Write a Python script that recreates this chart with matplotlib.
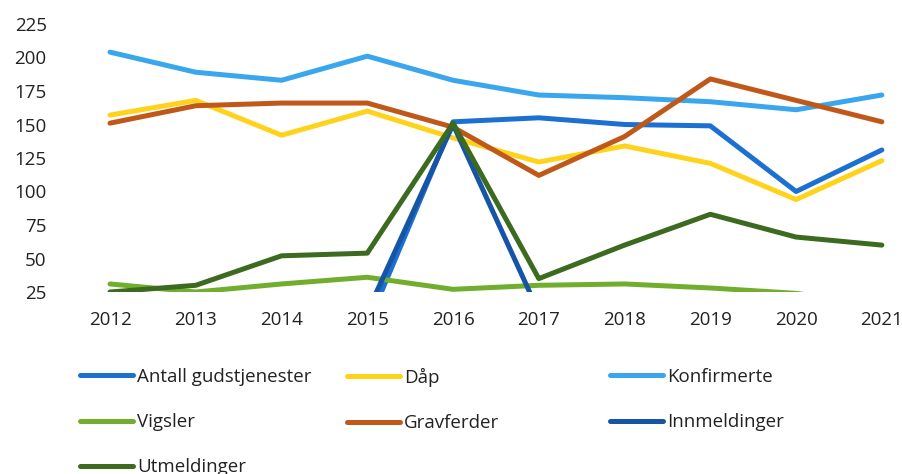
import numpy as np
import matplotlib.pyplot as plt

plt.rcParams['font.family'] = ['Open Sans', 'DejaVu Sans']

years = ['2012', '2013', '2014', '2015', '2016', '2017', '2018', '2019', '2020', '2021']

gudstjenester = [0, 0, 0, 0, 152, 155, 150, 149, 100, 131]
daap          = [157, 168, 142, 160, 140, 122, 134, 121, 94, 123]
konfirmerte   = [204, 189, 183, 201, 183, 172, 170, 167, 161, 172]
vigsler       = [31, 25, 31, 36, 27, 30, 31, 28, 24, 15]
gravferder    = [151, 164, 166, 166, 148, 112, 141, 184, 168, 152]
innmeldinger  = [8, 8, 8, 10, 150, 10, 10, 10, 10, 10]
utmeldinger   = [25, 30, 52, 54, 151, 35, 60, 83, 66, 60]

series = [
    ('Antall gudstjenester', gudstjenester, '#1c70d2'),
    ('Dåp', daap, '#ffd21c'),
    ('Konfirmerte', konfirmerte, '#3aa6ee'),
    ('Vigsler', vigsler, '#72ae2e'),
    ('Gravferder', gravferder, '#c0581a'),
    ('Innmeldinger', innmeldinger, '#1655a6'),
    ('Utmeldinger', utmeldinger, '#3c6a1e'),
]

fig = plt.figure(figsize=(9.02, 4.74), dpi=100)
ax = fig.add_axes([80/902, 1-292/474, 819/902, 268/474])

x = np.arange(len(years))
lines = []
for name, vals, col in series:
    ln, = ax.plot(x, vals, '-', color=col, lw=3.6, solid_capstyle='round', label=name)
    lines.append(ln)

ax.set_ylim(25, 225)
ax.set_xlim(-0.35, 9.2)
ax.set_yticks(np.arange(25, 226, 25))
ax.set_xticks(x)
ax.set_xticklabels(years)
for s in ax.spines.values():
    s.set_visible(False)
ax.tick_params(axis='both', length=0, labelsize=13.5, colors='#222222')
ax.tick_params(axis='y', pad=24)
ax.tick_params(axis='x', pad=14)

# legend in three columns, Excel-style positions
cols = [(0, 3, 6), (1, 4), (2, 5)]
xpos = [80/902, 347/902, 610/902]
for idx, xp in zip(cols, xpos):
    leg = fig.legend([lines[i] for i in idx], [series[i][0] for i in idx],
                     loc='upper left', bbox_to_anchor=(xp, 1-368/474),
                     frameon=False, fontsize=13.5, handlelength=2.85,
                     handletextpad=0.2, labelspacing=1.45, borderpad=0,
                     borderaxespad=0)
    for t in leg.get_texts():
        t.set_color('#222222')

plt.savefig('out.png', dpi=100)
